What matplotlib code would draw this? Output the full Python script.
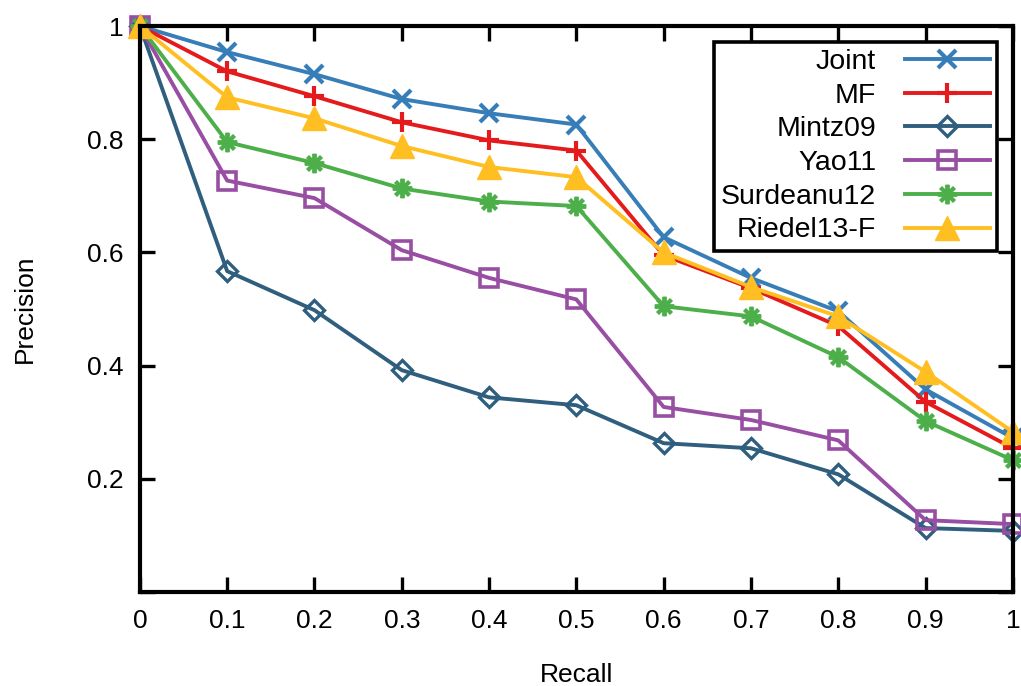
import matplotlib
matplotlib.use("Agg")
import matplotlib.pyplot as plt

plt.rcParams["font.family"] = ["Liberation Sans", "DejaVu Sans"]

recall = [0.0, 0.1, 0.2, 0.3, 0.4, 0.5, 0.6, 0.7, 0.8, 0.9, 1.0]

joint = [1.0, 0.954, 0.915, 0.871, 0.846, 0.826, 0.627, 0.555, 0.496, 0.358, 0.272]
mf = [1.0, 0.920, 0.876, 0.830, 0.798, 0.780, 0.595, 0.537, 0.470, 0.336, 0.254]
mintz09 = [1.0, 0.567, 0.498, 0.392, 0.344, 0.330, 0.263, 0.254, 0.208, 0.113, 0.108]
yao11 = [1.0, 0.727, 0.696, 0.604, 0.555, 0.517, 0.327, 0.304, 0.268, 0.127, 0.120]
surdeanu12 = [1.0, 0.795, 0.758, 0.713, 0.690, 0.682, 0.505, 0.487, 0.415, 0.302, 0.233]
riedel13f = [1.0, 0.874, 0.837, 0.788, 0.751, 0.733, 0.600, 0.539, 0.487, 0.389, 0.283]

x_ticks = [0, 0.1, 0.2, 0.3, 0.4, 0.5, 0.6, 0.7, 0.8, 0.9, 1]
x_labels = ["0", "0.1", "0.2", "0.3", "0.4", "0.5", "0.6", "0.7", "0.8", "0.9", "1"]
y_ticks = [0, 0.2, 0.4, 0.6, 0.8, 1]
y_labels = ["", "0.2", "0.4", "0.6", "0.8", "1"]

# name, values, colour, marker, markersize, marker edge width, filled
series = [
    ("Joint", joint, "#377eb8", "x", 13, 3.0, True),
    ("MF", mf, "#e41a1c", "+", 15, 3.0, True),
    ("Mintz09", mintz09, "#2f5e7e", "D", 10, 2.4, False),
    ("Yao11", yao11, "#984ea3", "s", 13, 2.6, False),
    ("Surdeanu12", surdeanu12, "#4daf4a", (8, 2, 0), 14, 2.8, True),
    ("Riedel13-F", riedel13f, "#ffbf22", "^", 17, 1.0, True),
]

fig = plt.figure(figsize=(10.21, 6.86), dpi=100)
ax = fig.add_axes([0.137, 0.137, 0.855, 0.825])

for name, vals, col, mk, ms, mew, filled in series:
    ax.plot(recall, vals, color=col, lw=2.8, marker=mk, ms=ms, mew=mew,
            mec=col, mfc=col if filled else "none", label=name, clip_on=False)

ax.set_xlim(0, 1)
ax.set_ylim(0, 1)
ax.set_xticks(x_ticks)
ax.set_xticklabels(x_labels)
ax.set_yticks(y_ticks)
ax.set_yticklabels(y_labels)
ax.tick_params(direction="in", length=11, width=2.4, labelsize=19,
               top=True, right=True, pad=12)
for sp in ax.spines.values():
    sp.set_linewidth(3.0)

ax.set_xlabel("Recall", fontsize=19, labelpad=22)
ax.set_ylabel("Precision", fontsize=19, labelpad=36)

leg = ax.legend(loc="upper right", bbox_to_anchor=(0.982, 0.972), markerfirst=False,
                fontsize=20.5, fancybox=False, framealpha=1, edgecolor="black",
                handlelength=3.0, labelspacing=0.27, borderpad=0.25,
                handletextpad=1.0, borderaxespad=0)
leg.get_frame().set_linewidth(2.6)

fig.savefig("out.png", dpi=100)
